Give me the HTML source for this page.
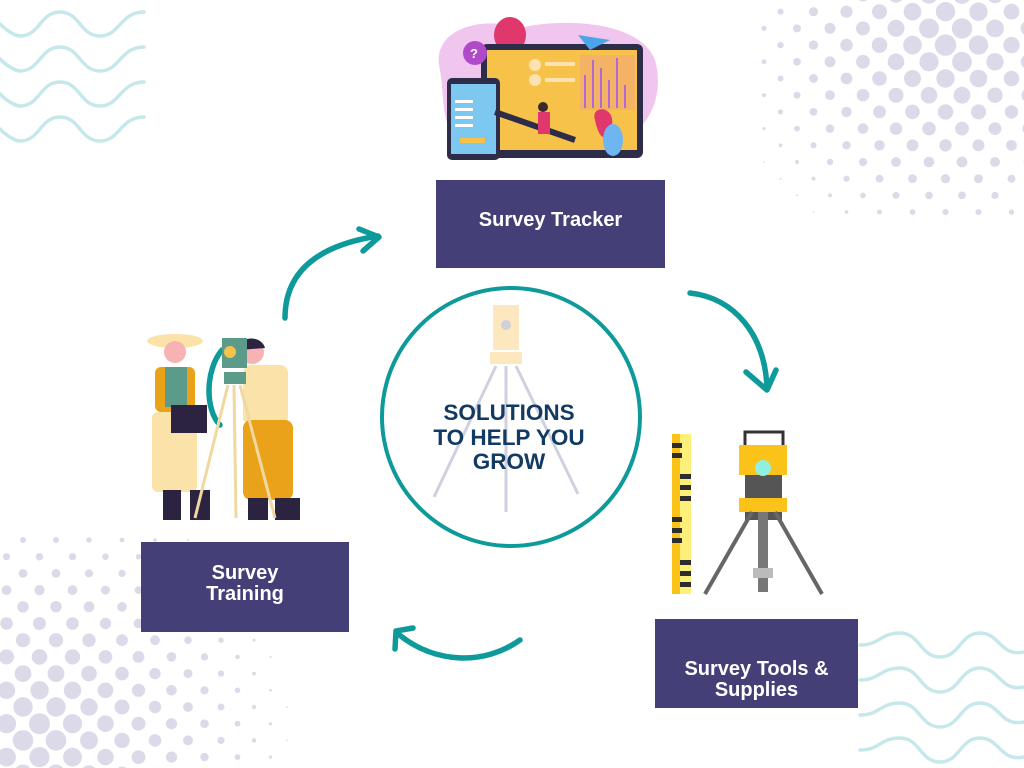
<!DOCTYPE html>
<html><head><meta charset="utf-8"><style>
html,body{margin:0;padding:0;background:#fff;}
#c{position:relative;width:1024px;height:768px;overflow:hidden;background:#fff;font-family:"Liberation Sans","DejaVu Sans",sans-serif;}
.box{position:absolute;background:#453f78;color:#fff;font-weight:bold;font-size:20px;display:flex;align-items:center;justify-content:center;text-align:center;line-height:21px;box-sizing:border-box;}
svg{position:absolute;left:0;top:0;}
</style></head><body><div id="c">
<svg id="bg" width="1024" height="768"></svg>
<svg width="1024" height="768">
<g fill="none" stroke="#c6e8ea" stroke-width="3.5" stroke-linecap="round">
<path d="M0,24 C10,34 18,36 20,36 C40,36 40,12 60,12 C80,12 80,36 100,36 C120,36 120,12 144,12"/>
<path d="M0,59 C10,69 18,71 20,71 C40,71 40,47 60,47 C80,47 80,71 100,71 C120,71 120,47 144,47"/>
<path d="M0,94 C10,104 18,106 20,106 C40,106 40,82 60,82 C80,82 80,106 100,106 C120,106 120,82 144,82"/>
<path d="M0,129 C10,139 18,141 20,141 C40,141 40,117 60,117 C80,117 80,141 100,141 C120,141 120,117 144,117"/>
<path d="M860,645 C880,645 880,633 900,633 C920,633 920,657 940,657 C960,657 960,633 980,633 C1000,633 1000,657 1024,652"/>
<path d="M860,680 C880,680 880,668 900,668 C920,668 920,692 940,692 C960,692 960,668 980,668 C1000,668 1000,692 1024,687"/>
<path d="M860,715 C880,715 880,703 900,703 C920,703 920,727 940,727 C960,727 960,703 980,703 C1000,703 1000,727 1024,722"/>
<path d="M860,750 C880,750 880,738 900,738 C920,738 920,762 940,762 C960,762 960,738 980,738 C1000,738 1000,762 1024,757"/>
</g>
<path d="M440,70 C430,30 480,15 520,28 C560,18 640,20 655,60 C665,95 650,140 600,145 L470,145 C440,140 445,100 440,70Z" fill="#f0c6ef"/>
<ellipse cx="510" cy="35" rx="16" ry="18" fill="#e0386c"/>
<rect x="481" y="44" width="162" height="114" rx="6" fill="#2d2d4a"/>
<rect x="487" y="50" width="150" height="100" fill="#f7c24a"/>
<rect x="580" y="55" width="55" height="55" fill="#f2a77a" opacity=".6"/>
<g stroke="#b06ad0" stroke-width="2"><line x1="585" y1="108" x2="585" y2="75"/><line x1="593" y1="108" x2="593" y2="60"/><line x1="601" y1="108" x2="601" y2="68"/><line x1="609" y1="108" x2="609" y2="80"/><line x1="617" y1="108" x2="617" y2="58"/><line x1="625" y1="108" x2="625" y2="85"/></g>
<circle cx="535" cy="65" r="6" fill="#fbe2b0"/><circle cx="535" cy="80" r="6" fill="#fbe2b0"/>
<rect x="545" y="62" width="30" height="4" fill="#fbe2b0"/><rect x="545" y="78" width="30" height="4" fill="#fbe2b0"/>
<path d="M595,120 C590,105 615,105 612,125 C610,140 600,145 595,120Z" fill="#e0386c"/>
<ellipse cx="613" cy="140" rx="10" ry="16" fill="#6fb6f0"/>
<polygon points="578,35 610,40 590,50" fill="#4aa6e8"/>
<circle cx="475" cy="53" r="12" fill="#b04ac8"/><text x="470" y="58" fill="#fff" font-size="13" font-weight="bold">?</text>
<rect x="447" y="78" width="53" height="82" rx="5" fill="#2d2d4a"/>
<rect x="451" y="84" width="45" height="70" fill="#7dc8f0"/>
<g fill="#fff"><rect x="455" y="100" width="18" height="3"/><rect x="455" y="108" width="18" height="3"/><rect x="455" y="116" width="18" height="3"/><rect x="455" y="124" width="18" height="3"/></g>
<rect x="460" y="138" width="25" height="5" fill="#f7c24a"/>
<line x1="495" y1="112" x2="575" y2="140" stroke="#2d2d4a" stroke-width="6"/>
<rect x="538" y="112" width="12" height="22" fill="#e0386c"/><circle cx="543" cy="107" r="5" fill="#3a2a2a"/>
<g opacity=".55">
<rect x="493" y="305" width="26" height="45" fill="#fbd58a"/>
<circle cx="506" cy="325" r="5" fill="#aab"/>
<rect x="490" y="352" width="32" height="12" fill="#fbd58a"/>
<g stroke="#a8aec4" stroke-width="3"><line x1="496" y1="366" x2="434" y2="497"/><line x1="516" y1="366" x2="578" y2="494"/><line x1="506" y1="366" x2="506" y2="512"/></g>
</g>
<circle cx="511" cy="417" r="129" fill="none" stroke="#0e9a9a" stroke-width="4"/>
<text font-family="Liberation Sans, sans-serif" font-weight="bold" font-size="22.5" fill="#123a63" text-anchor="middle">
<tspan x="509" y="420">SOLUTIONS</tspan><tspan x="509" y="445">TO HELP YOU</tspan><tspan x="509" y="469">GROW</tspan></text>
<g fill="none" stroke="#0e9a9a" stroke-width="5.5" stroke-linecap="round" stroke-linejoin="round">
<path d="M285,318 C285,270 320,245 378,236"/>
<path d="M359,229 L379,237 L363,251"/>
<path d="M690,293 C735,298 765,335 767,388"/>
<path d="M746,372 L767,390 L776,370"/>
<path d="M520,640 C485,665 435,665 397,633"/>
<path d="M395,649 L396,631 L413,628"/>
<path d="M222,350 C205,370 205,410 220,425"/>
</g>
<ellipse cx="175" cy="341" rx="28" ry="7" fill="#fbe2a8"/>
<circle cx="175" cy="352" r="11" fill="#f7b3b3"/>
<rect x="155" y="367" width="40" height="45" rx="6" fill="#e9a21a"/>
<rect x="165" y="367" width="22" height="40" fill="#5c9a8a"/>
<rect x="152" y="412" width="45" height="80" rx="6" fill="#fbe2a8"/>
<rect x="171" y="405" width="36" height="28" fill="#2b2340"/>
<rect x="163" y="490" width="18" height="30" fill="#2b2340"/><rect x="190" y="490" width="20" height="30" fill="#2b2340"/>
<circle cx="252" cy="352" r="12" fill="#f7b3b3"/><path d="M240,350 C238,335 262,335 265,348Z" fill="#2b2340"/>
<rect x="243" y="365" width="45" height="60" rx="8" fill="#fbe2a8"/>
<rect x="243" y="420" width="50" height="80" rx="8" fill="#e9a21a"/>
<rect x="248" y="498" width="20" height="22" fill="#2b2340"/><rect x="275" y="498" width="25" height="22" fill="#2b2340"/>
<rect x="222" y="338" width="25" height="30" fill="#5c9a8a"/><circle cx="230" cy="352" r="6" fill="#f7c24a"/>
<rect x="224" y="372" width="22" height="12" fill="#5c9a8a"/>
<g stroke="#f0d9a0" stroke-width="3"><line x1="228" y1="385" x2="195" y2="518"/><line x1="240" y1="385" x2="275" y2="518"/><line x1="234" y1="385" x2="236" y2="518"/></g>
<rect x="672" y="434" width="19" height="160" fill="#fbc21a"/>
<rect x="680" y="434" width="11" height="160" fill="#fdf07a"/>
<g fill="#2d2d2d"><rect x="672" y="443" width="10" height="5"/><rect x="672" y="453" width="10" height="5"/><rect x="680" y="474" width="11" height="5"/><rect x="680" y="485" width="11" height="5"/><rect x="680" y="496" width="11" height="5"/><rect x="672" y="517" width="10" height="5"/><rect x="672" y="528" width="10" height="5"/><rect x="672" y="538" width="10" height="5"/><rect x="680" y="560" width="11" height="5"/><rect x="680" y="571" width="11" height="5"/><rect x="680" y="582" width="11" height="5"/></g>
<rect x="745" y="432" width="38" height="40" fill="none" stroke="#333" stroke-width="3"/>
<rect x="739" y="445" width="48" height="30" fill="#fbc21a"/>
<rect x="745" y="475" width="37" height="45" fill="#555"/>
<circle cx="763" cy="468" r="8" fill="#8ff0e0"/>
<rect x="739" y="498" width="48" height="14" fill="#fbc21a"/>
<g stroke="#666" stroke-width="4"><line x1="752" y1="512" x2="705" y2="594"/><line x1="775" y1="512" x2="822" y2="594"/></g>
<rect x="758" y="512" width="10" height="80" fill="#777"/><rect x="753" y="568" width="20" height="10" fill="#bbb"/>
</svg>
<div class="box" style="left:436px;top:180px;width:229px;height:88px;padding-bottom:8px;">Survey Tracker</div>
<div class="box" style="left:141px;top:542px;width:208px;height:90px;padding-bottom:6px;">Survey<br>Training</div>
<div class="box" style="left:655px;top:619px;width:203px;height:89px;padding-top:32px;">Survey Tools &amp;<br>Supplies</div>
</div>
<script>
(function(){var s=document.getElementById('bg'),h='';
function field(cx,cy,R,D,x0,x1,y0,y1){for(var j=0;;j++){var y=y0+j*16.7;if(y>y1)break;var off=(j%2)*16.5;for(var x=x0+off;x<=x1;x+=33){var d=Math.hypot(x-cx,y-cy);var r=R*(1-d/D);if(r>0.8)h+='<circle cx="'+x.toFixed(1)+'" cy="'+y.toFixed(1)+'" r="'+r.toFixed(1)+'" fill="#dcdae8"/>';}}}
field(950,40,11,240,764,1040,-5,220);
field(40,735,11,270,-10,300,540,780);
s.innerHTML=h;})();
</script>
</body></html>
